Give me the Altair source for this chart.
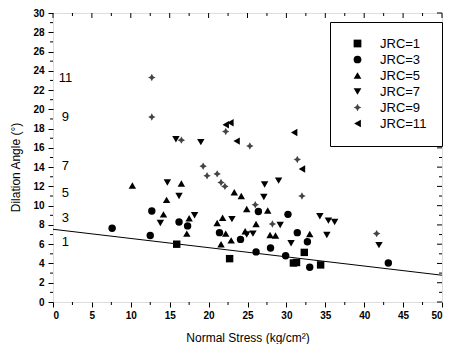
import altair as alt
import pandas as pd

# ---- data ----
jrc_names = ["JRC=1", "JRC=3", "JRC=5", "JRC=7", "JRC=9", "JRC=11"]

jrc1_x = [15.9, 22.7, 30.9, 31.3, 32.3, 34.4]
jrc1_y = [6.0, 4.5, 4.05, 4.1, 5.15, 3.85]

jrc3_x = [7.6, 12.7, 12.5, 16.2, 17.3, 21.4, 24.1, 26.1, 27.96, 29.9, 30.2, 31.4, 32.7, 33.0, 43.1, 26.4]
jrc3_y = [7.65, 9.45, 6.9, 8.3, 7.9, 7.2, 6.5, 5.2, 5.6, 4.8, 9.1, 7.2, 6.25, 3.6, 4.05, 9.4]

jrc5_x = [10.2, 16.5, 23.3, 24.2, 14.6, 14.2, 17.5, 17.2, 21.1, 21.8, 22.2, 21.6, 22.9, 24.9, 27.6, 26.1, 24.7, 27.9, 28.6, 33.0]
jrc5_y = [12.1, 12.3, 11.4, 11.0, 10.6, 9.1, 8.7, 7.1, 8.2, 8.75, 7.1, 6.0, 6.4, 9.65, 9.5, 8.1, 7.35, 6.95, 6.9, 7.05]

jrc7_x = [15.8, 19.0, 14.7, 16.2, 13.8, 18.2, 23.0, 27.2, 29.0, 27.1, 29.2, 24.9, 25.7, 30.6, 34.3, 35.4, 36.2, 35.2, 41.9]
jrc7_y = [16.9, 16.6, 12.4, 11.0, 8.2, 9.0, 8.6, 12.2, 12.6, 10.9, 8.0, 7.0, 7.1, 6.1, 8.9, 8.45, 8.3, 6.95, 5.9]

jrc9_x = [12.7, 12.7, 16.5, 22.2, 25.3, 19.3, 19.8, 21.1, 21.6, 22.1, 31.4, 32.0, 26.0, 28.2, 41.6]
jrc9_y = [23.3, 19.2, 16.8, 17.7, 16.2, 14.1, 13.1, 13.3, 12.4, 12.0, 14.8, 11.0, 10.1, 8.1, 7.1]

jrc11_x = [22.2, 22.8, 23.6, 31.0, 32.0]
jrc11_y = [18.4, 18.6, 16.7, 17.6, 13.8]

fit_x = [0, 50]
fit_y = [7.55, 2.78]

note_text = ["11", "9", "7", "5", "3", "1"]
note_x = [1.6, 1.6, 1.6, 1.6, 1.6, 1.6]
note_y = [23.3, 19.2, 14.1, 11.35, 8.75, 6.25]

x_major = [0, 5, 10, 15, 20, 25, 30, 35, 40, 45, 50]
x_minor = [2.5, 7.5, 12.5, 17.5, 22.5, 27.5, 32.5, 37.5, 42.5, 47.5]
y_major = list(range(0, 31, 2))
y_minor = list(range(1, 30, 2))

# ---- tables ----
rows = []
for name, xs_, ys_ in zip(jrc_names,
                          [jrc1_x, jrc3_x, jrc5_x, jrc7_x, jrc9_x, jrc11_x],
                          [jrc1_y, jrc3_y, jrc5_y, jrc7_y, jrc9_y, jrc11_y]):
    for a, b in zip(xs_, ys_):
        rows.append({"JRC": name, "stress": a, "angle": b})
df = pd.DataFrame(rows)
fit_df = pd.DataFrame({"stress": fit_x, "angle": fit_y})
note_df = pd.DataFrame({"t": note_text, "stress": note_x, "angle": note_y})
xmaj_df = pd.DataFrame({"stress": x_major})
xmin_df = pd.DataFrame({"stress": x_minor})
ymaj_df = pd.DataFrame({"angle": y_major})
ymin_df = pd.DataFrame({"angle": y_minor})

W, H = 389, 289
FONT = "Liberation Sans"
xsc = alt.Scale(domain=[0, 50], nice=False, zero=False)
ysc = alt.Scale(domain=[0, 30], nice=False, zero=False)

xaxis = alt.Axis(values=x_major, title="Normal Stress (kg/cm²)",
                 labelFontSize=10, labelFontWeight="bold", labelFont=FONT,
                 labelColor="black", tickSize=5, tickColor="black",
                 labelPadding=3, domain=False, grid=False,
                 titleFontSize=12, titleFontWeight="normal", titleFont=FONT,
                 titleColor="black", titleX=W / 2, titleY=35.5,
                 titleBaseline="middle")
yaxis = alt.Axis(values=y_major, title="Dilation Angle (°)",
                 labelFontSize=10, labelFontWeight="bold", labelFont=FONT,
                 labelColor="black", tickSize=5, tickColor="black",
                 labelPadding=4, domain=False, grid=False,
                 titleFontSize=12, titleFontWeight="normal", titleFont=FONT,
                 titleColor="black", titleX=-38, titleY=154,
                 titleBaseline="middle")

X = alt.X("stress:Q", scale=xsc, axis=xaxis)
Y = alt.Y("angle:Q", scale=ysc, axis=yaxis)

star = "M0,-1L0.35,-0.35L1,0L0.35,0.35L0,1L-0.35,0.35L-1,0L-0.35,-0.35Z"
shapes = ["square", "circle", "triangle-up", "triangle-down", star, "triangle-left"]
colors = ["black", "black", "black", "black", "#444444", "black"]

leg = alt.Legend(title=None, orient="none", legendX=277, legendY=9,
                 strokeColor="black", fillColor="white", padding=15,
                 symbolOffset=6, labelOffset=16, labelFontSize=13,
                 labelFont=FONT, symbolSize=60, rowPadding=2)

points = alt.Chart(df).mark_point(filled=True, opacity=1, size=55).encode(
    x=X, y=Y,
    shape=alt.Shape("JRC:N", scale=alt.Scale(domain=jrc_names, range=shapes), legend=leg),
    color=alt.Color("JRC:N", scale=alt.Scale(domain=jrc_names, range=colors), legend=leg),
)

fit = alt.Chart(fit_df).mark_line(color="black", strokeWidth=1).encode(x=X, y=Y)

notes = alt.Chart(note_df).mark_text(fontSize=13, font=FONT, color="black").encode(
    x=X, y=Y, text="t:N")

def vrule(d, y0, y1):
    return alt.Chart(d).mark_rule(color="black", strokeWidth=1).encode(
        x=X, y=alt.value(y0), y2=alt.value(y1))

def hrule(d, x0, x1):
    return alt.Chart(d).mark_rule(color="black", strokeWidth=1).encode(
        y=Y, x=alt.value(x0), x2=alt.value(x1))

ticks = [
    vrule(xmaj_df, 0, 5), vrule(xmin_df, 0, 3), vrule(xmin_df, H, H + 3),
    hrule(ymaj_df, W - 5, W), hrule(ymin_df, W - 3, W), hrule(ymin_df, -3, 0),
]

chart = alt.layer(points, fit, *ticks, notes).properties(
    width=W, height=H,
    autosize=alt.AutoSizeParams(type="none"),
    padding={"left": 45, "top": 5, "right": 1, "bottom": 42},
).configure_view(stroke="black", strokeWidth=1.5).configure(font=FONT)

chart.save("out.html", embed_options={"renderer": "svg", "actions": False})
